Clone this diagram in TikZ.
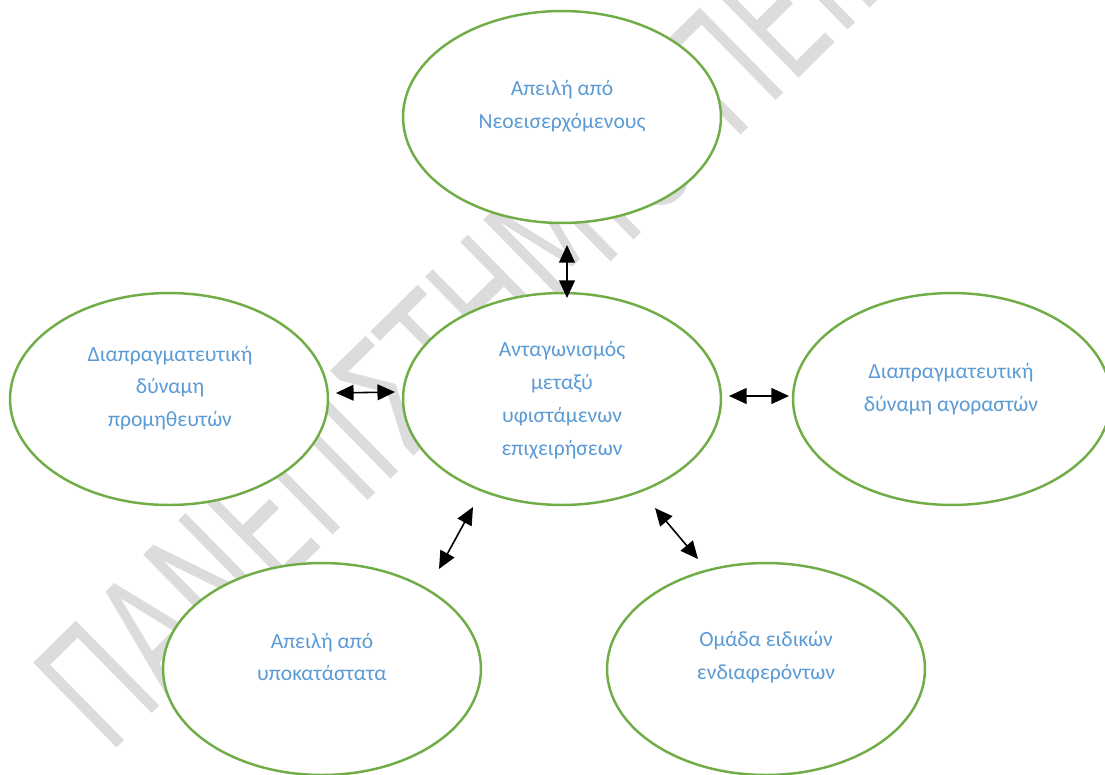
\documentclass[tikz,border=0pt]{standalone}
\usepackage{fontspec}
\setmainfont{Carlito}
\newfontfamily\wmfont{DejaVu Sans}[FakeStretch=0.66]
\usetikzlibrary{shapes.geometric,arrows.meta}
\definecolor{ringgreen}{HTML}{70AD47}
\definecolor{labelblue}{HTML}{5B9BD5}
\definecolor{wmgray}{HTML}{DCDCDC}

\begin{document}
\begin{tikzpicture}[x=0.02cm,y=-0.02cm,
  force/.style={ellipse,draw=ringgreen,fill=white,line width=1.4pt,
    minimum width=6.36cm,minimum height=4.24cm,inner sep=0pt},
  caption/.style={text=labelblue,align=center,
    font=\fontsize{12.3}{18.7}\selectfont},
  link/.style={{Triangle[length=10pt,width=9pt]}-{Triangle[length=10pt,width=9pt]},
    line width=0.9pt,black}]

\useasboundingbox (0,0) rectangle (1105,774);

% watermark behind the diagram
\begin{scope}
  \clip (0,0) rectangle (1105,774);
  \node[anchor=base west,rotate=44.5,inner sep=0pt,text=wmgray,
    font=\wmfont\fontsize{93}{93}\selectfont] (wm) at (109,756)
    {ΠΑΝΕΠΙΣΤΗΜΙΟ ΠΕΙΡΑΙΩΣ};
\end{scope}

% the five forces around the central rivalry
\node[force] (top)    at (562,117) {};
\node[force] (centre) at (562,399) {};
\node[force] (left)   at (169,399) {};
\node[force] (right)  at (952,399) {};
\node[force] (bleft)  at (322,669) {};
\node[force] (bright) at (766,669) {};

\node[caption] (topT)    at (562,106) {Απειλή από\\Νεοεισερχόμενους};
\node[caption] (centreT) at (562,400) {Ανταγωνισμός\\μεταξύ\\υφιστάμενων\\επιχειρήσεων};
\node[caption] (leftT)   at (170,388) {Διαπραγματευτική\\δύναμη\\προμηθευτών};
\node[caption] (rightT)  at (951,389) {Διαπραγματευτική\\δύναμη αγοραστών};
\node[caption] (bleftT)  at (322,657) {Απειλή από\\υποκατάστατα};
\node[caption] (brightT) at (766,657) {Ομάδα ειδικών\\ενδιαφερόντων};

% arrow end points between the ellipses
\coordinate (a1) at (567,245); \coordinate (b1) at (567,298);
\coordinate (a2) at (336,393); \coordinate (b2) at (395,392);
\coordinate (a3) at (729,396); \coordinate (b3) at (789,396);
\coordinate (a4) at (473,507); \coordinate (b4) at (439,569);
\coordinate (a5) at (655,508); \coordinate (b5) at (698,559);

\draw[link] (a1) -- (b1);
\draw[link] (a2) -- (b2);
\draw[link] (a3) -- (b3);
\draw[link] (a4) -- (b4);
\draw[link] (a5) -- (b5);
\end{tikzpicture}
\end{document}
